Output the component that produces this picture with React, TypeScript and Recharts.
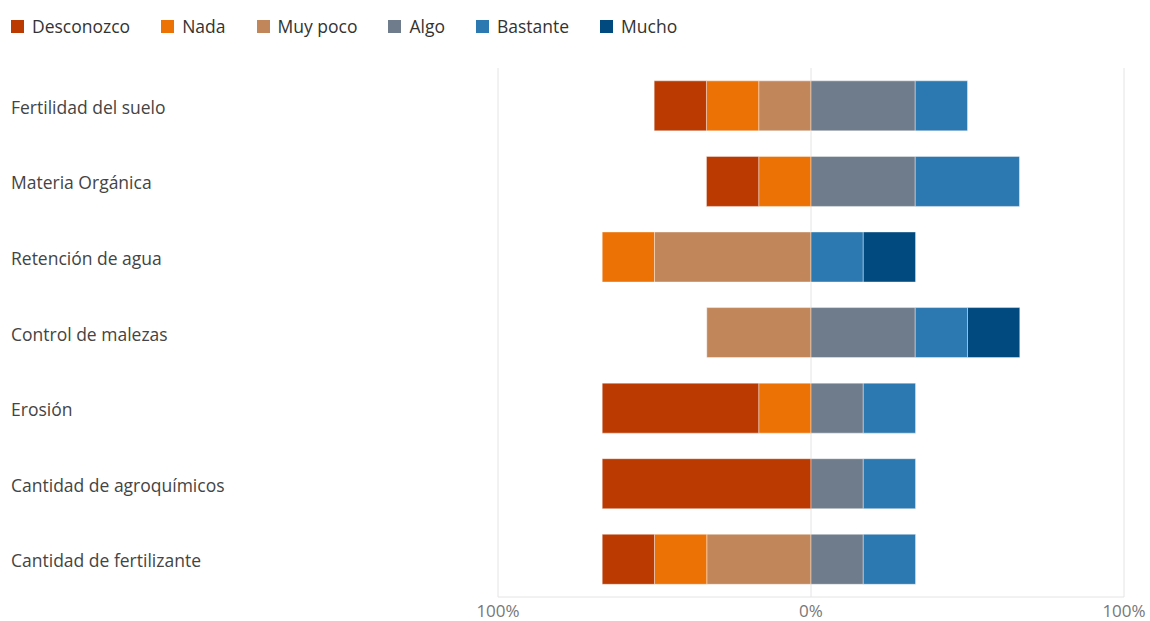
import React from 'react';
import { BarChart, Bar, XAxis, YAxis, CartesianGrid } from 'recharts';

const categories = [
  'Fertilidad del suelo',
  'Materia Orgánica',
  'Retención de agua',
  'Control de malezas',
  'Erosión',
  'Cantidad de agroquímicos',
  'Cantidad de fertilizante',
];

// percent of answers, negative side drawn to the left of 0%
const desconozco = [16.7, 16.7, 0, 0, 50, 66.7, 16.7];
const nada = [16.7, 16.7, 16.7, 0, 16.7, 0, 16.7];
const muyPoco = [16.7, 0, 50, 33.3, 0, 0, 33.3];
const algo = [33.3, 33.3, 0, 33.3, 16.7, 16.7, 16.7];
const bastante = [16.7, 33.3, 16.7, 16.7, 16.7, 16.7, 16.7];
const mucho = [0, 0, 16.7, 16.7, 0, 0, 0];

const xTicks = [-100, 0, 100];

const series = [
  { key: 'Desconozco', color: '#BA3A02' },
  { key: 'Nada', color: '#EC7206' },
  { key: 'Muy poco', color: '#C1875B' },
  { key: 'Algo', color: '#6F7C8C' },
  { key: 'Bastante', color: '#2C78B0' },
  { key: 'Mucho', color: '#014A80' },
];

const data = categories.map((name, i) => ({
  name,
  Desconozco: -desconozco[i],
  Nada: -nada[i],
  'Muy poco': -muyPoco[i],
  Algo: algo[i],
  Bastante: bastante[i],
  Mucho: mucho[i],
}));

const font = '"Open Sans", "Noto Sans", sans-serif';
const colorOf = (k: string) => series.find((s) => s.key === k)!.color;

const CategoryTick = (props: any) => {
  const { y, payload } = props;
  return (
    <text x={11} y={y + 1} textAnchor="start" dominantBaseline="central" fill="#444" fontSize={17.5} fontFamily={font}>
      {payload.value}
    </text>
  );
};

export default function App() {
  return (
    <div style={{ position: 'absolute', left: 0, top: 0, width: 1150, height: 621, background: '#fff' }}>
      <div
        style={{
          position: 'absolute',
          left: 11,
          top: 14,
          display: 'flex',
          alignItems: 'center',
          fontFamily: font,
          fontSize: 17.5,
          color: '#333',
        }}
      >
        {series.map((s) => (
          <div key={s.key} style={{ display: 'flex', alignItems: 'center', marginRight: 31 }}>
            <span style={{ width: 13, height: 13, background: s.color, display: 'inline-block', marginRight: 8 }} />
            <span>{s.key}</span>
          </div>
        ))}
      </div>
      <BarChart
        width={1150}
        height={621}
        data={data}
        layout="vertical"
        stackOffset="sign"
        barCategoryGap="17%"
        margin={{ top: 68, right: 26, bottom: 0, left: 0 }}
      >
        <CartesianGrid horizontal={false} stroke="#e4e4e4" />
        <XAxis
          type="number"
          domain={[-100, 100]}
          ticks={xTicks}
          tickFormatter={(v: number) => `${Math.abs(v)}%`}
          axisLine={{ stroke: '#e4e4e4' }}
          tickLine={false}
          height={24}
          tick={{ fill: '#777', fontSize: 17, fontFamily: font }}
        />
        <YAxis
          type="category"
          dataKey="name"
          width={498}
          axisLine={false}
          tickLine={false}
          tick={<CategoryTick />}
        />
        {['Muy poco', 'Nada', 'Desconozco', 'Algo', 'Bastante', 'Mucho'].map((k) => (
          <Bar key={k} dataKey={k} stackId="a" fill={colorOf(k)} stroke="#ffffff" strokeOpacity={0.4} strokeWidth={1} isAnimationActive={false} />
        ))}
      </BarChart>
    </div>
  );
}
